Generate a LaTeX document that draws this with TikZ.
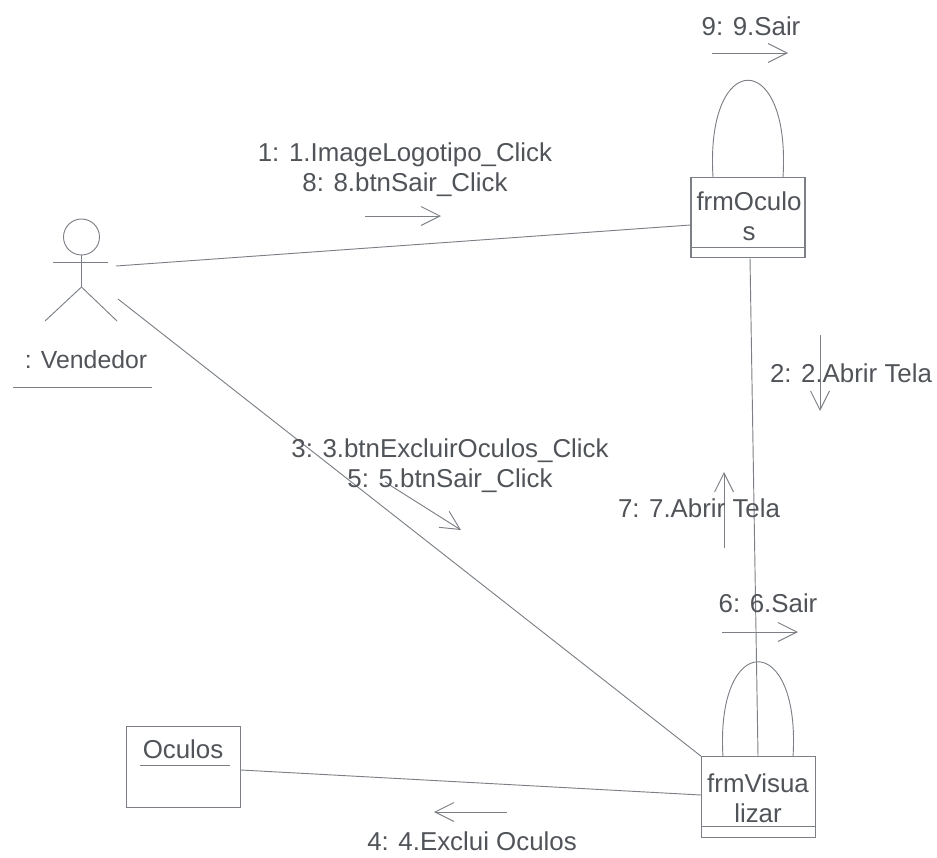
\documentclass[tikz,border=0pt]{standalone}
\usepackage{fontspec}
\setmainfont{Liberation Sans}
\usetikzlibrary{arrows.meta,positioning}
\definecolor{LineGrey}{HTML}{7C8086}
\definecolor{LabelGrey}{HTML}{505358}
\tikzset{
  objbox/.style={draw=LineGrey,fill=white,inner sep=0pt,line width=0.8pt,minimum width=85.5pt,minimum height=60.5pt},
  lbl/.style={font=\fontsize{19.4pt}{22.5pt}\selectfont,text=LabelGrey,align=center,inner sep=0pt},
  link/.style={draw=LineGrey,line width=0.7pt},
  msg/.style={draw=LineGrey,line width=0.7pt,-{Straight Barb[length=5mm,width=5mm]}}
}
\begin{document}
\begin{tikzpicture}[x=0.75pt,y=-0.75pt]
  \useasboundingbox (0,0) rectangle (937,857);
  % boxes
  \node[objbox] (oculos) at (183.5,767) {};
  \node[objbox] (frmoculos) at (748,217.5) {};
  \node[objbox] (frmvisualizar) at (758.5,797) {};
  \node[lbl] (oculosname) at (183,749) {Oculos};
  \node[lbl] (frmoculosname) at (749,216) {frmOculo\\s};
  \node[lbl] (frmvisualizarname) at (758,798) {frmVisua\\lizar};
  \draw[link] (140,765) -- (230,765);
  \draw[link] (691,247) -- (805,247);
  \draw[link] (702,826) -- (815,826);
  % actor
  \node[draw=LineGrey,circle,minimum size=27pt,inner sep=0pt,line width=0.7pt] (head) at (81.5,237) {};
  \coordinate (hip) at (81.5,287);
  \draw[link] (head.south) -- (hip);
  \draw[link] (53,262) -- (108,262);
  \draw[link] (hip) -- (45,321);
  \draw[link] (hip) -- (117,321);
  \node[lbl,font=\fontsize{18.6pt}{22pt}\selectfont] (vendedor) at (86,360) {: Vendedor};
  \draw[link] (13,387) -- (152,387);
  % links
  \coordinate (vendedorA) at (116,266);
  \coordinate (vendedorB) at (118,299);
  \draw[link] (vendedorA) -- (frmoculos.west |- 0,225);
  \draw[link] (vendedorB) -- (frmvisualizar.north west);
  \draw[link] (oculos.east |- 0,770) -- (frmvisualizar.west |- 0,795);
  \draw[link] (frmoculos.south -| 750,0) -- (frmvisualizar.north -| 758,0);
  \draw[link] (713,177) .. controls (705,48) and (791,48) .. (783,177);
  \draw[link] (723,757) .. controls (715,630) and (801,630) .. (793,757);
  % message arrows
  \draw[msg] (712,53) -- (788,53);
  \draw[msg] (365,216) -- (441,216);
  \draw[msg] (820,335) -- (820,411);
  \draw[msg] (385,482) -- (461,530);
  \draw[msg] (724,548) -- (724,472);
  \draw[msg] (722,632) -- (798,632);
  \draw[msg] (507,812) -- (434,812);
  % labels
  \node[lbl] (sair) at (751,26) {9: 9.Sair};
  \node[lbl] (logotipo) at (405,170) {1: 1.ImageLogotipo\_Click\\8: 8.btnSair\_Click};
  \node[lbl] (abrir) at (851,373) {2: 2.Abrir Tela};
  \node[lbl] (excluir) at (450,466) {3: 3.btnExcluirOculos\_Click\\5: 5.btnSair\_Click};
  \node[lbl] (voltar) at (699,508) {7: 7.Abrir Tela};
  \node[lbl] (sairb) at (768,603) {6: 6.Sair};
  \node[lbl] (exclui) at (472,841) {4: 4.Exclui Oculos};
\end{tikzpicture}
\end{document}
